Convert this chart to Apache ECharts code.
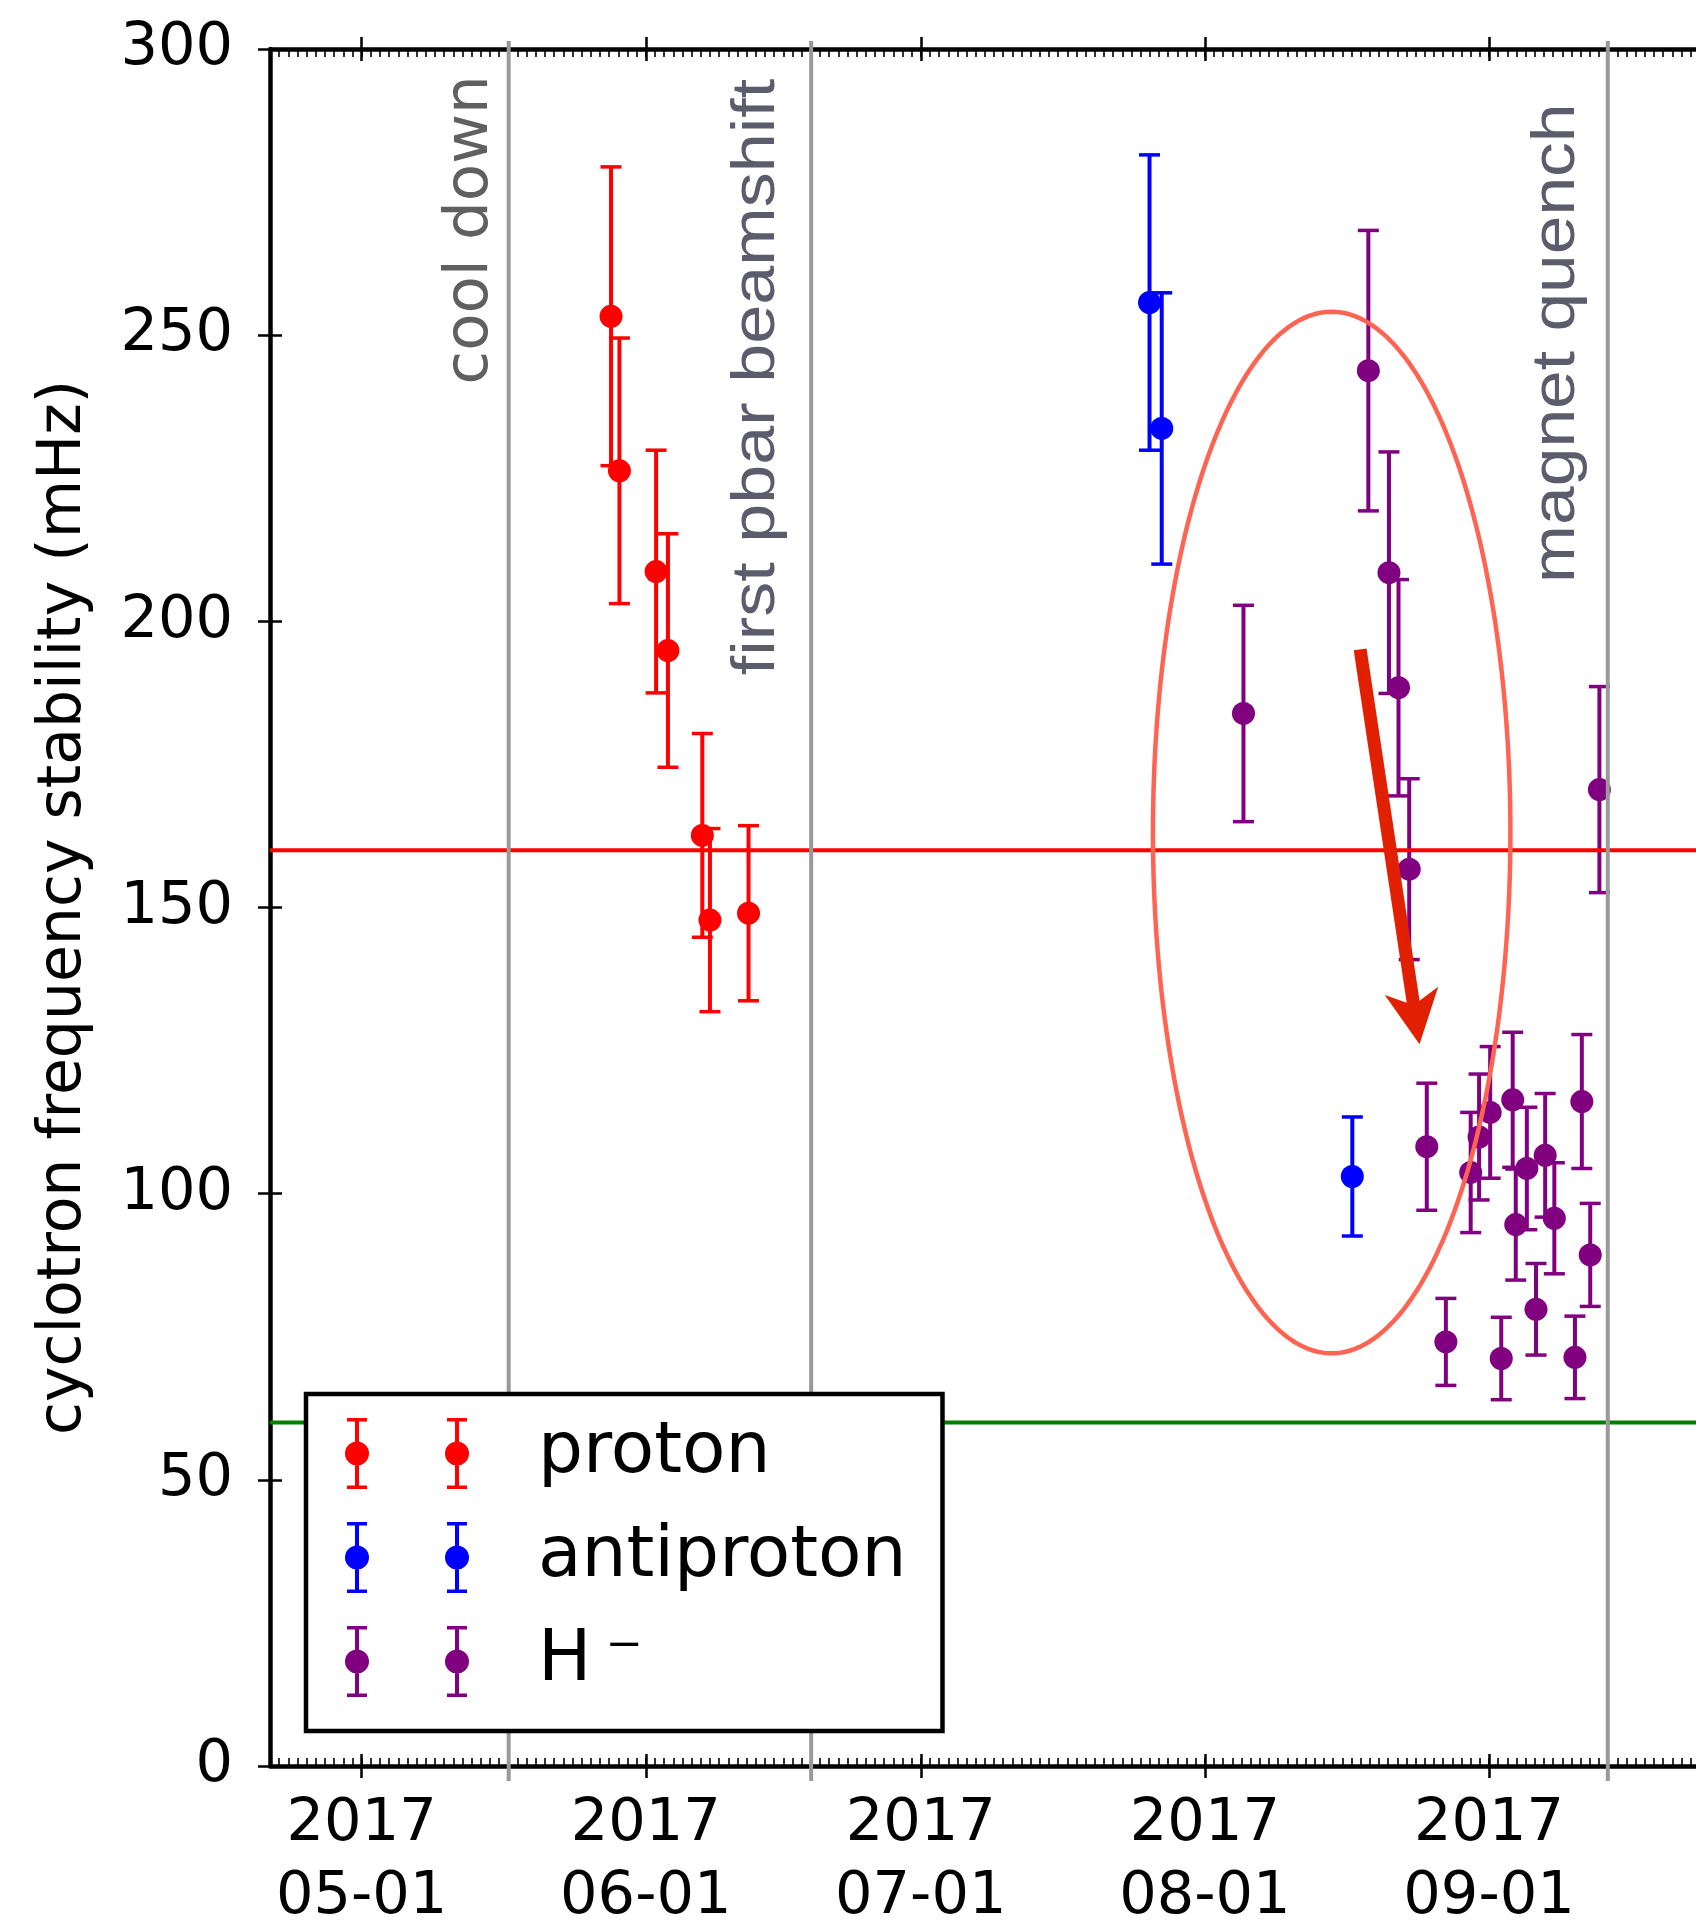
<!DOCTYPE html>
<html><head><meta charset="utf-8">
<script src="https://cdn.jsdelivr.net/npm/echarts@6/dist/echarts.min.js"></script>
<style>html,body{margin:0;padding:0;background:#fff}#c{width:1696px;height:1921px}</style>
</head><body><div id="c"></div>
<script>
// ---------------- data ----------------
const seriesNames = ['proton', 'antiproton', 'H\u2009\u207B'];

const protonDates  = ['2017-05-28T05:00','2017-05-29T03:00','2017-06-02T03:00','2017-06-03T10:00','2017-06-07T04:00','2017-06-08T00:00','2017-06-12T05:00'];
const protonValues = [253.3, 226.3, 208.7, 194.9, 162.6, 147.8, 149.0];
const protonErrors = [26.1, 23.2, 21.2, 20.4, 17.8, 16.0, 15.3];

const antiprotonDates  = ['2017-07-25T23:00','2017-07-27T07:00','2017-08-17T02:00'];
const antiprotonValues = [255.7, 233.7, 103.0];
const antiprotonErrors = [25.8, 23.7, 10.4];

const hminusDates = ['2017-08-05T05:00','2017-08-18T20:00','2017-08-21T02:00','2017-08-22T03:00','2017-08-23T07:00',
  '2017-08-25T05:00','2017-08-27T07:00','2017-08-30T00:00','2017-08-30T22:00','2017-09-01T03:00','2017-09-02T08:00',
  '2017-09-03T14:00','2017-09-03T22:00','2017-09-05T03:00','2017-09-06T03:00','2017-09-07T03:00','2017-09-08T03:00',
  '2017-09-10T09:00','2017-09-11T03:00','2017-09-12T01:00','2017-09-13T01:00'];
const hminusValues = [183.9, 243.8, 208.5, 188.4, 156.7, 108.2, 74.1, 103.7, 109.9, 114.2, 71.2,
  116.4, 94.6, 104.4, 79.8, 106.7, 95.7, 71.4, 116.1, 89.3, 170.6];
const hminusErrors = [18.9, 24.5, 21.1, 18.9, 15.8, 11.1, 7.6, 10.5, 11.0, 11.5, 7.2,
  11.8, 9.7, 10.7, 8.0, 10.8, 9.7, 7.2, 11.7, 9.0, 18.0];

const eventDates  = ['2017-05-17T01:00', '2017-06-19T01:00', '2017-09-13T23:00'];
const eventLabels = ['cool down', 'first pbar beamshift', 'magnet quench'];
const eventLabelValues = [268.4, 242.7, 248.6];

const thresholdValues = [160, 60];

const monthTickDates = ['2017-05-01T00:00','2017-06-01T00:00','2017-07-01T00:00','2017-08-01T00:00','2017-09-01T00:00'];
const xRangeDates = ['2017-04-21T00:00', '2017-09-25T00:00'];
const yMin = 0, yMax = 300, yStep = 50;
const yTitle = 'cyclotron frequency stability (mHz)';

const ellipseCenter = ['2017-08-14T20:00', 163.1];
const ellipseHalfDays = 19.5, ellipseHalfValue = 91;
const arrowTail = ['2017-08-17T22:30', 195.1];
const arrowTip  = ['2017-08-24T10:00', 126.1];

// ---------------- helpers / styles ----------------
const DAY = 86400000;
const toMs = s => Date.parse(s + ':00Z');
const xMin = toMs(xRangeDates[0]), xMax = toMs(xRangeDates[1]);
const monthMs = monthTickDates.map(toMs);
const FONT = 'DejaVu Sans';
const colors = ['#ff0000', '#0000ff', '#800080'];
const thresholdColors = ['#ff0000', '#008000'];
const eventColor = '#999999';

function fmtDate(v) {
  const d = new Date(v);
  return d.getUTCFullYear() + '\n' + String(d.getUTCMonth() + 1).padStart(2, '0') + '-' + String(d.getUTCDate()).padStart(2, '0');
}

const chart = echarts.init(document.getElementById('c'), null, {renderer: 'canvas'});

function xAx(extra) {
  return Object.assign({
    type: 'value', min: xMin, max: xMax, splitLine: {show: false},
    axisLabel: {show: false}, axisLine: {show: false, onZero: false}, axisTick: {show: false}
  }, extra);
}
const spine = {show: true, onZero: false, lineStyle: {color: '#000', width: 4.5}};
const majorTick = {color: '#000', width: 2.5};
const minorTick = {color: '#000', width: 1.6};

function errorBarSeries(idx, dates, values, errors) {
  const color = colors[idx];
  return {
    type: 'custom', name: seriesNames[idx], z: 2, silent: true,
    itemStyle: {color},
    data: dates.map((d, i) => [toMs(d), values[i], errors[i]]),
    encode: {x: 0, y: 1},
    renderItem(params, api) {
      const x = api.value(0), v = api.value(1), e = api.value(2);
      const t = api.coord([x, v + e]), b = api.coord([x, v - e]);
      const hw = 10.5;
      return {type: 'group', children: [
        {type: 'line', shape: {x1: t[0], y1: t[1], x2: b[0], y2: b[1]}, style: {stroke: color, lineWidth: 4}},
        {type: 'line', shape: {x1: t[0] - hw, y1: t[1], x2: t[0] + hw, y2: t[1]}, style: {stroke: color, lineWidth: 3.5}},
        {type: 'line', shape: {x1: b[0] - hw, y1: b[1], x2: b[0] + hw, y2: b[1]}, style: {stroke: color, lineWidth: 3.5}}
      ]};
    }
  };
}
function markerSeries(idx, dates, values) {
  return {
    type: 'scatter', name: seriesNames[idx], z: 3, silent: true,
    symbol: 'circle', symbolSize: 23, itemStyle: {color: colors[idx], opacity: 1},
    data: dates.map((d, i) => [toMs(d), values[i]])
  };
}

const ICON = 'path://' + [13, 113].map(cx =>
  `M${cx-10} 0h20v3.5h-20zM${cx-10} 67.5h20v3.5h-20zM${cx-2} 0h4v71h-4zM${cx-12} 35.5a12 12 0 1 1 24 0a12 12 0 1 1 -24 0z`
).join('');

const series = [
  markerSeries(0, protonDates, protonValues),
  markerSeries(1, antiprotonDates, antiprotonValues),
  markerSeries(2, hminusDates, hminusValues),
  errorBarSeries(0, protonDates, protonValues, protonErrors),
  errorBarSeries(1, antiprotonDates, antiprotonValues, antiprotonErrors),
  errorBarSeries(2, hminusDates, hminusValues, hminusErrors)
];
thresholdValues.forEach((v, i) => series.push({
  type: 'line', name: 'threshold' + i, z: 4, silent: true, symbol: 'none',
  lineStyle: {color: thresholdColors[i], width: 4}, data: [[xMin, v], [xMax, v]]
}));
eventDates.forEach((d, i) => series.push({
  type: 'line', name: 'event' + i, z: 5, silent: true, symbol: 'none', clip: false,
  lineStyle: {color: eventColor, width: 4}, data: [[toMs(d), yMin - 2.6], [toMs(d), yMax + 1.4]]
}));

const option = {
  animation: false,
  backgroundColor: '#ffffff',
  grid: {left: 270, top: 49, right: -13, bottom: 155, containLabel: false, outerBoundsMode: 'none'},
  xAxis: [
    xAx({position: 'bottom', axisLine: spine,
      axisTick: {show: true, inside: false, length: 12, customValues: monthMs, lineStyle: majorTick},
      axisLabel: {show: true, customValues: monthMs, formatter: fmtDate, margin: 22,
        fontFamily: FONT, fontSize: 59, lineHeight: 73, color: '#000'}}),
    xAx({position: 'bottom', axisTick: {show: true, inside: true, length: 12, customValues: monthMs, lineStyle: majorTick}}),
    xAx({position: 'bottom', interval: DAY, axisTick: {show: true, inside: true, length: 8, lineStyle: minorTick}}),
    xAx({position: 'top', axisLine: spine,
      axisTick: {show: true, inside: false, length: 12, customValues: monthMs, lineStyle: majorTick}}),
    xAx({position: 'top', axisTick: {show: true, inside: true, length: 12, customValues: monthMs, lineStyle: majorTick}}),
    xAx({position: 'top', interval: DAY, axisTick: {show: true, inside: true, length: 8, lineStyle: minorTick}})
  ],
  yAxis: [
    {type: 'value', min: yMin, max: yMax, interval: yStep, position: 'left',
      axisLine: spine, splitLine: {show: false},
      axisTick: {show: true, inside: false, length: 12, lineStyle: majorTick},
      axisLabel: {fontFamily: FONT, fontSize: 59, color: '#000', margin: 37},
      name: yTitle, nameLocation: 'middle', nameGap: 176, nameRotate: 90,
      nameTextStyle: {fontFamily: FONT, fontSize: 60, color: '#000'}},
    {type: 'value', min: yMin, max: yMax, interval: yStep, position: 'left',
      axisLine: {show: false, onZero: false}, splitLine: {show: false}, axisLabel: {show: false},
      axisTick: {show: true, inside: true, length: 12, lineStyle: majorTick}}
  ],
  legend: {
    orient: 'vertical', left: 306, top: 1394, z: 100,
    padding: [24, 36, 34, 39],
    itemWidth: 126, itemHeight: 71, itemGap: 33,
    icon: ICON,
    backgroundColor: '#ffffff', borderColor: '#000000', borderWidth: 4.5, borderRadius: 0,
    selectedMode: false,
    itemStyle: {borderWidth: 0},
    textStyle: {fontFamily: FONT, fontSize: 71, color: '#000', lineHeight: 71, padding: [0, 0, 0, 63]},
    data: seriesNames.map(n => ({name: n, icon: ICON}))
  },
  series
};
chart.setOption(option);

// ---------------- annotations placed through the axes ----------------
const finder = {xAxisIndex: 0, yAxisIndex: 0};
const px = (t, v) => chart.convertToPixel(finder, [t, v]);

const graphics = [];
const labelStyles = [
  {font: FONT, size: 61, color: '#606060', dx: -38, scale: 1},
  {font: 'Liberation Sans', size: 61, color: '#5c5c6c', dx: -54, scale: 1.15},
  {font: 'Liberation Sans', size: 61, color: '#5c5c6c', dx: -51, scale: 1.14}
];
eventDates.forEach((d, i) => {
  const p = px(toMs(d), eventLabelValues[i]);
  const s = labelStyles[i];
  graphics.push({
    type: 'text', x: p[0] + s.dx, y: p[1], rotation: Math.PI / 2, scaleX: s.scale, scaleY: 1, z: 20, silent: true,
    style: {text: eventLabels[i], x: 0, y: 0, align: 'center', verticalAlign: 'middle',
      fontFamily: s.font, fontSize: s.size, fill: s.color}
  });
});

// ellipse
const ec = px(toMs(ellipseCenter[0]), ellipseCenter[1]);
const exr = px(toMs(ellipseCenter[0]) + ellipseHalfDays * DAY, ellipseCenter[1]);
const eyr = px(toMs(ellipseCenter[0]), ellipseCenter[1] + ellipseHalfValue);
const rx = exr[0] - ec[0], ry = ec[1] - eyr[1];
const pts = [];
for (let k = 0; k < 240; k++) {
  const a = k / 240 * Math.PI * 2;
  pts.push([ec[0] + rx * Math.cos(a), ec[1] + ry * Math.sin(a)]);
}
graphics.push({type: 'polygon', shape: {points: pts}, z: 30, silent: true,
  style: {fill: null, stroke: '#ff6452', lineWidth: 4.5}});

// arrow
const T = px(toMs(arrowTail[0]), arrowTail[1]);
const P = px(toMs(arrowTip[0]), arrowTip[1]);
const len = Math.hypot(P[0] - T[0], P[1] - T[1]);
const u = [(P[0] - T[0]) / len, (P[1] - T[1]) / len];
const n = [-u[1], u[0]];
const w = 6.5, H = 27, L = 54, N = 43;
const at = (base, a, b) => [base[0] + u[0] * a + n[0] * b, base[1] + u[1] * a + n[1] * b];
graphics.push({type: 'polygon', z: 31, silent: true,
  shape: {points: [at(T, 0, w), at(P, -N, w), at(P, -L, H), P, at(P, -L, -H), at(P, -N, -w), at(T, 0, -w)]},
  style: {fill: '#e02000', stroke: null}});

chart.setOption({graphic: graphics});
</script></body></html>
